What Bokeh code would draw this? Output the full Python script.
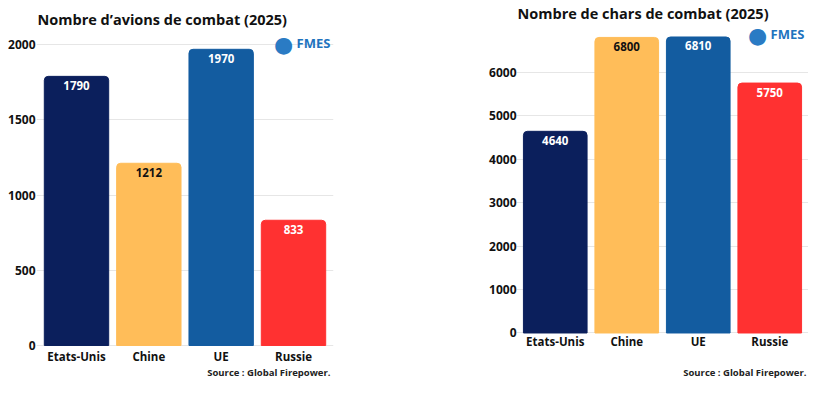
from bokeh.plotting import figure
from bokeh.layouts import row
from bokeh.models import ColumnDataSource, Label, Range1d, FactorRange
from bokeh.core.properties import value
from bokeh.embed import file_html
from bokeh.resources import INLINE

categories = ["Etats-Unis", "Chine", "UE", "Russie"]
avions = [1790, 1212, 1970, 833]
chars = [4640, 6800, 6810, 5750]
avions_ticks = [0, 500, 1000, 1500, 2000]
chars_ticks = [0, 1000, 2000, 3000, 4000, 5000, 6000]
bar_colors = ["#0b1f5c", "#ffbd59", "#135ca0", "#ff3131"]
label_colors = ["#ffffff", "#111111", "#ffffff", "#ffffff"]

FONT = "Open Sans"


def make_chart(vals, ticks, y_start, y_end, width, bl, br, pad, y_standoff, x_standoff,
               title, title_pos, src_pos, logo_pos):
    p = figure(x_range=FactorRange(*categories, range_padding=pad,
                                   range_padding_units="absolute"),
               y_range=Range1d(y_start, y_end),
               width=width, height=378, output_backend="svg", toolbar_location=None,
               title=None, min_border_left=bl, min_border_right=br,
               min_border_top=0, min_border_bottom=0)
    p.outline_line_color = None
    p.background_fill_color = "white"
    p.border_fill_color = "white"
    src = ColumnDataSource(dict(cat=categories, val=vals, color=bar_colors,
                                lcolor=label_colors, txt=[str(v) for v in vals]))
    p.vbar(x="cat", top="val", bottom=0, width=0.89, color="color", source=src,
           border_radius=(4, 4, 0, 0))
    p.text(x="cat", y="val", text="txt", text_color="lcolor", source=src,
           text_align="center", text_baseline="middle", y_offset=9,
           text_font=value(FONT), text_font_style="bold", text_font_size="11.5px")
    p.xgrid.grid_line_color = None
    p.ygrid.grid_line_color = "#e6e6e6"
    p.ygrid.grid_line_width = 1
    p.yaxis.ticker = ticks
    for ax in (p.xaxis, p.yaxis):
        ax.axis_line_color = None
        ax.major_tick_line_color = None
        ax.minor_tick_line_color = None
        ax.major_tick_in = 0
        ax.major_tick_out = 0
        ax.minor_tick_out = 0
        ax.major_label_text_font = FONT
        ax.major_label_text_font_style = "bold"
        ax.major_label_text_color = "#111111"
    p.yaxis.major_label_text_font_size = "12px"
    p.xaxis.major_label_text_font_size = "11.5px"
    p.yaxis.major_label_standoff = y_standoff
    p.xaxis.major_label_standoff = x_standoff
    p.xaxis.fixed_location = 0
    p.add_layout(Label(x=title_pos[0], y=title_pos[1], x_units="screen", y_units="screen",
                       text=title, text_font=FONT, text_font_style="bold",
                       text_font_size="14.5px", text_color="#111111",
                       text_align="left", text_baseline="middle"))
    p.add_layout(Label(x=src_pos[0], y=src_pos[1], x_units="screen", y_units="screen",
                       text="Source : Global Firepower.", text_font=FONT, text_font_style="bold",
                       text_font_size="9.5px", text_color="#222222",
                       text_align="right", text_baseline="middle"))
    p.add_layout(Label(x=logo_pos[0], y=logo_pos[1], x_units="screen", y_units="screen",
                       text="●", text_font="DejaVu Sans",
                       text_font_size="22px", text_color="#2a7bc4",
                       text_align="center", text_baseline="middle"))
    p.add_layout(Label(x=logo_pos[0] + 13, y=logo_pos[1] + 2, x_units="screen", y_units="screen",
                       text="FMES", text_font=FONT, text_font_style="bold",
                       text_font_size="13px", text_color="#1e73be",
                       text_align="left", text_baseline="middle"))
    return p


# frames span the full height; x axes sit at y = 0
# left: frame x 36..333, zero 33 px above frame bottom
p1 = make_chart(avions, avions_ticks, -219.5, 2294.6, 400, 36, 67, 0.053, 1, 4,
                "Nombre d\u2019avions de combat (2025)", (1, 359), (294, 6), (247, 334))
# right: frame x 516..808, zero 45.5 px above frame bottom
p2 = make_chart(chars, chars_ticks, -1046.8, 7649.5, 408, 116, 0, 0.042, 0, 1,
                "Nombre de chars de combat (2025)", (1, 365), (290, 6), (241, 343))

layout = row(p1, p2)
open("out.html", "w").write(file_html(layout, INLINE))
